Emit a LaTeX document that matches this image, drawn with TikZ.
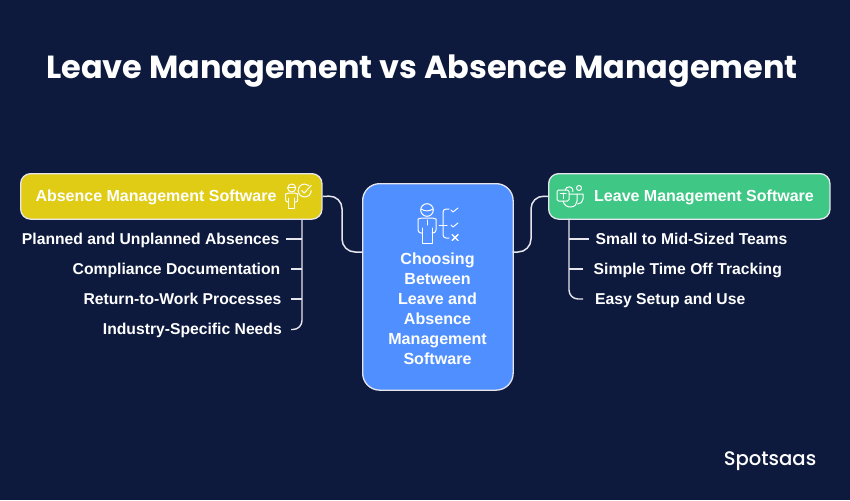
\documentclass[tikz,border=0pt]{standalone}
\usepackage{fontspec}
\setmainfont{Liberation Sans}
\newfontfamily\ttlfont{Poppins}
\newfontfamily\logofont{Poppins Medium}
\definecolor{bg}{HTML}{0D1A3E}
\definecolor{ybox}{HTML}{E0CC15}
\definecolor{gbox}{HTML}{3EC785}
\definecolor{bbox}{HTML}{4F8FFF}
\definecolor{edge}{HTML}{E6E6EC}
\tikzset{
  boxbase/.style={draw=edge,line width=1.3pt,inner sep=0pt,anchor=north west},
  hdrtext/.style={text=white,font=\bfseries\fontsize{16}{18}\selectfont,inner sep=0pt,text height=11pt,text depth=3.3pt},
  itemtext/.style={text=white,font=\bfseries\fontsize{15.7}{18}\selectfont,inner sep=0pt,text height=11pt,text depth=3.3pt},
  midtext/.style={text=white,font=\bfseries\fontsize{16.1}{20}\selectfont,inner sep=0pt,align=center},
  conn/.style={draw=edge,line width=1.5pt,rounded corners=13pt},
  treeline/.style={draw=edge,line width=1.4pt},
  ico/.style={draw=white,line width=1pt,line cap=round,line join=round},
}
\begin{document}
\begin{tikzpicture}[x=1pt,y=-1pt]
\useasboundingbox[fill=bg] (0,0) rectangle (850,500);
\node[text=white,font=\ttlfont\bfseries\fontsize{31.95}{36}\selectfont,inner sep=0pt] (title) at (422,71) {Leave Management vs Absence Management};
% boxes
\node[boxbase,fill=ybox,rounded corners=10pt,minimum width=301.3pt,minimum height=45.5pt] (absbox) at (20,173) {};
\node[boxbase,fill=gbox,rounded corners=10pt,minimum width=281.3pt,minimum height=45.5pt] (levbox) at (548,173) {};
\node[boxbase,fill=bbox,rounded corners=17pt,minimum width=150.5pt,minimum height=206.5pt] (midbox) at (362,183) {};
% connectors between boxes
\coordinate (midL) at (362,252);
\coordinate (midR) at (512.5,252);
\draw[conn] (absbox.east) -- (342,195.75) -- (342,252) -- (midL);
\draw[conn] (midR) -- (531,252) -- (531,195.75) -- (levbox.west);
% header text
\node[hdrtext] (abstext) at (156,197.3) {Absence Management Software};
\node[hdrtext] (levtext) at (704,197.3) {Leave Management Software};
% left items
\node[itemtext,anchor=east] (a1) at (279.5,240.6) {Planned and Unplanned Absences};
\node[itemtext,anchor=east] (a2) at (280.5,270.6) {Compliance Documentation};
\node[itemtext,anchor=east] (a3) at (281.5,300.8) {Return-to-Work Processes};
\node[itemtext,anchor=east] (a4) at (282,330.8) {Industry-Specific Needs};
% right items
\node[itemtext,anchor=west] (b1) at (595.5,240.6) {Small to Mid-Sized Teams};
\node[itemtext,anchor=west] (b2) at (593.5,270.6) {Simple Time Off Tracking};
\node[itemtext,anchor=west] (b3) at (595,300.8) {Easy Setup and Use};
% left tree
\coordinate (at) at (302,218.7);
\coordinate (a1e) at (286,239);
\coordinate (a2e) at (291,269);
\coordinate (a3e) at (291,299);
\coordinate (a4e) at (291,329.5);
\draw[treeline,rounded corners=9pt] (at) -- (302,329.5) -- (a4e);
\draw[treeline] (a1e) -- (302,239);
\draw[treeline] (a2e) -- (302,269);
\draw[treeline] (a3e) -- (302,299);
% right tree
\coordinate (bt) at (569,218.7);
\coordinate (b1e) at (589,239);
\coordinate (b2e) at (583,269);
\coordinate (b3e) at (583,299);
\draw[treeline,rounded corners=9pt] (bt) -- (569,299) -- (b3e);
\draw[treeline] (b1e) -- (569,239);
\draw[treeline] (b2e) -- (569,269);
% middle text
\node[midtext] (midtext) at (437.5,309) {Choosing\\Between\\Leave and\\Absence\\Management\\Software};
% logo
\node[text=white,font=\logofont\fontsize{19.6}{20}\selectfont,inner sep=0pt] (logo) at (770,461) {Spotsaas};
% centre icon
\begin{scope}[ico,shift={(427,210)}]
  \draw (0,0) circle (6.3);
  \draw (-6,-1) .. controls (-2,1.5) and (2,1.5) .. (6,-1);
  \draw (0,10) -- (0,15);
  \draw[rounded corners=3pt] (-5,23) -- (-9,23) -- (-9,12) .. controls (-9,9) and (-5,8) .. (-3,8) -- (3,8) .. controls (5,8) and (9,9) .. (9,12) -- (9,23) -- (5,23);
  \draw (-5,18) -- (-5,33) -- (5,33) -- (5,18);
  \draw (12,15) -- (20,15);
  \draw[rounded corners=3pt] (22,-1) -- (16,-1) -- (16,28) -- (22,28);
  \draw (24,0) -- (26,2) -- (31,-2);
  \draw (24,15) -- (26,17) -- (31,13);
  \draw[line width=1.4pt] (25,24.5) -- (31,30.5) (31,24.5) -- (25,30.5);
\end{scope}
% left header icon
\begin{scope}[ico,shift={(291.7,188)},line width=1pt]
  \draw (0,0) circle (4);
  \draw (-3.8,-.4) -- (3.8,-.4);
  \draw[rounded corners=2pt] (-3,14) -- (-6,14) -- (-6,8) .. controls (-6,6) and (-3,5) .. (-1,5) -- (1,5) .. controls (3,5) and (6,6) .. (6,8) -- (6,14) -- (3,14);
  \draw (-3,10) -- (-3,20) -- (3,20) -- (3,10);
  \draw (19.5,2.5) arc[start angle=0,end angle=310,radius=6.5];
  \draw (10,2.5) -- (12.5,5) -- (19.5,-2.5);
\end{scope}
% right header icon
\begin{scope}[ico,shift={(557,190)},line width=1pt]
  \draw[rounded corners=1.5pt] (0,0) rectangle (12,11);
  \draw (3,3) -- (9,3) (6,3) -- (6,8.5);
  \draw (8.2,0) arc[start angle=190,end angle=375,radius=3.9];
  \draw (22,-2) circle (2.5);
  \draw (12,4) -- (26,4) -- (26,9) .. controls (26,12) and (23.5,14) .. (20.5,14);
  \draw (6,11) .. controls (7,15.5) and (11,17.5) .. (14,17) .. controls (18,16.5) and (20,14) .. (20,11) -- (20,4);
\end{scope}
\end{tikzpicture}
\end{document}
